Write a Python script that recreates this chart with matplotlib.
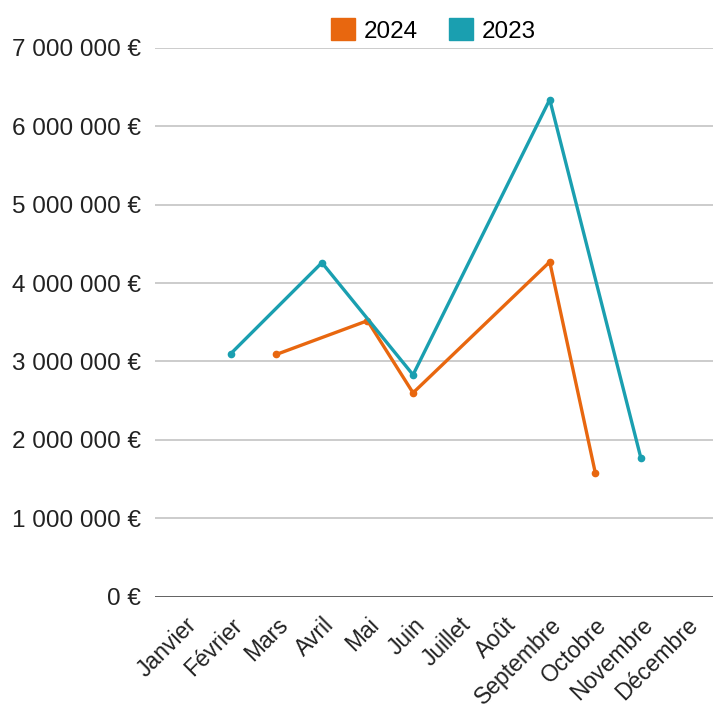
import matplotlib.pyplot as plt
import matplotlib.patches as mpatches

plt.rcParams["font.family"] = ["Liberation Sans", "DejaVu Sans"]

mois = ["Janvier", "Février", "Mars", "Avril", "Mai", "Juin", "Juillet",
        "Août", "Septembre", "Octobre", "Novembre", "Décembre"]
ventes_2024 = [None, None, 3090000, None, 3520000, 2600000, None,
               None, 4270000, 1580000, None, None]
ventes_2023 = [None, 3100000, None, 4260000, None, 2830000, None,
               None, 6340000, None, 1770000, None]
yticks = [0, 1000000, 2000000, 3000000, 4000000, 5000000, 6000000, 7000000]

ORANGE = "#E8670F"
TEAL = "#1A9FB0"

fig = plt.figure(figsize=(7.15, 7.13), dpi=100)
ax = fig.add_axes([0.217, 0.163, 0.78, 0.770])


def trace(valeurs, couleur):
    # les mois vides sont sautés, la ligne relie les points existants
    xs = [i for i, v in enumerate(valeurs) if v is not None]
    ys = [v for v in valeurs if v is not None]
    ax.plot(xs, ys, "-o", color=couleur, lw=2.4, ms=4.5, zorder=3)


trace(ventes_2024, ORANGE)
trace(ventes_2023, TEAL)

ax.set_ylim(0, 7000000)
ax.set_xlim(-0.66, 11.58)
ax.set_yticks(yticks)
ax.set_yticklabels([f"{v:,}".replace(",", " ") + " €" if v else "0 €" for v in yticks])
ax.set_xticks(range(len(mois)))
ax.set_xticklabels(mois, rotation=45, ha="right", rotation_mode="anchor")
ax.tick_params(axis="both", length=0, colors="#222222")
ax.tick_params(axis="y", pad=10, labelsize=17.5)
ax.tick_params(axis="x", pad=12, labelsize=16.5)

for v in yticks:
    ax.axhline(v, color="#555555" if v == 0 else "#c8c8c8", lw=1.3, zorder=1)
for s in ax.spines.values():
    s.set_visible(False)

handles = [mpatches.Patch(color=ORANGE, label="2024"),
           mpatches.Patch(color=TEAL, label="2023")]
fig.legend(handles=handles, loc="upper center", bbox_to_anchor=(0.606, 1.005),
           ncol=2, frameon=False, fontsize=17.5, handlelength=1.0,
           handleheight=1.0, handletextpad=0.35, columnspacing=1.3)

fig.savefig("out.png", dpi=100)
